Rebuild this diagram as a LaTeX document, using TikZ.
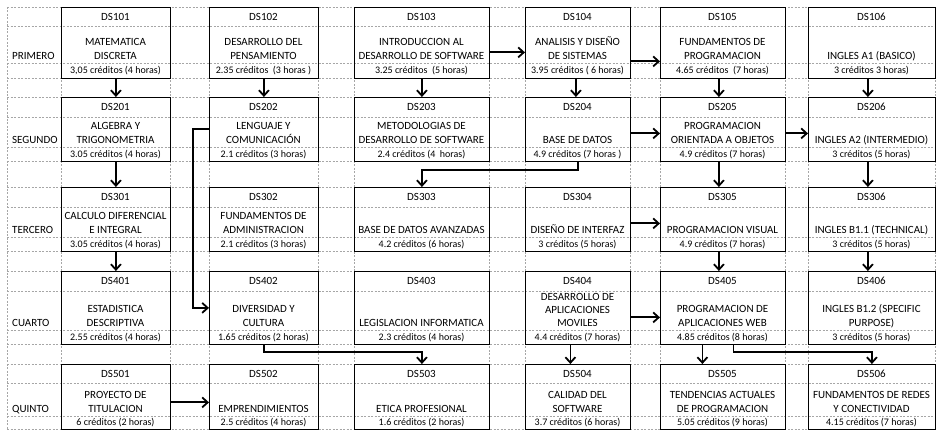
\documentclass[tikz,border=0pt]{standalone}
\usepackage{fontspec}
\setmainfont{Carlito}
\usetikzlibrary{arrows.meta}

\tikzset{
  course/.style={draw, line width=.8pt, inner sep=0pt, anchor=north west},
  code/.style={font=\fontsize{11}{13}\selectfont, inner sep=0pt},
  title/.style={font=\fontsize{11}{14}\selectfont, align=center, inner sep=0pt, anchor=south, text depth=0pt},
  cred/.style={font=\fontsize{10}{12}\selectfont, inner sep=0pt, anchor=base},
  year/.style={font=\fontsize{11}{13}\selectfont, inner sep=0pt, anchor=base west},
  link/.style={line width=1.8pt, ->},
  gridline/.style={gray!70, line width=.5pt, dash pattern=on 2pt off 1.5pt}
}

% #1 nivel, #2 columna, #3 numero, #4 nombre, #5 creditos
\newcommand{\course}[5]{%
  \pgfmathsetmacro\colL{{61,209,354,525,660,808}[#2-1]}
  \pgfmathsetmacro\colR{{170,318,489,630,785,935}[#2-1]}
  \pgfmathsetmacro\rowT{{7,97,187,271,364}[#1-1]}
  \pgfmathsetmacro\rowD{{26,117,207,291,383}[#1-1]}
  \pgfmathsetmacro\rowM{{63,147,237,330,416}[#1-1]}
  \pgfmathsetmacro\rowB{{78,161,251,344,429}[#1-1]}
  \pgfmathsetmacro\boxW{\colR-\colL}
  \pgfmathsetmacro\boxH{\rowB-\rowT}
  \node[course, minimum width=\boxW pt, minimum height=\boxH pt] (c#3) at (\colL,\rowT) {};
  \node[code] (c#3-code) at ({(\colL+\colR)/2},{(\rowT+\rowD)/2}) {DS#3};
  \node[title] (c#3-title) at ({(\colL+\colR)/2},\rowM-3.5) {#4};
  \node[cred] (c#3-cred) at ({(\colL+\colR)/2},{(\rowM+\rowB)/2+3.3}) {#5};
}

\begin{document}
\begin{tikzpicture}[x=1pt, y=-1pt, line join=miter, >={Straight Barb[length=5.5pt,width=10pt]}]
  \useasboundingbox (0,0) rectangle (943,435);
  % cuadricula
  \foreach \y in {7,26,63,78,97,117,147,161,187,207,237,251,271,291,330,344,364,383,416,429}
    \draw[gridline] (7,\y) -- (935,\y);
  \foreach \x in {7,61,170,209,318,354,489,525,630,660,785,808,935}
    \draw[gridline] (\x,7) -- (\x,429);

  % semestres
  \foreach \lev/\ym/\name in {1/63/PRIMERO, 2/147/SEGUNDO, 3/237/TERCERO, 4/330/CUARTO, 5/416/QUINTO}
    \node[year] (lev\lev) at (12,\ym-3.5) {\name};

  % primero
  \course{1}{1}{101}{MATEMATICA\\DISCRETA}{3,05 créditos (4 horas)}
  \course{1}{2}{102}{DESARROLLO DEL\\PENSAMIENTO}{2.35 créditos \ (3 horas )}
  \course{1}{3}{103}{INTRODUCCION AL\\DESARROLLO DE SOFTWARE}{3.25 créditos \ (5 horas)}
  \course{1}{4}{104}{ANALISIS Y DISEÑO\\DE SISTEMAS}{3.95 créditos ( 6 horas)}
  \course{1}{5}{105}{FUNDAMENTOS DE\\PROGRAMACION}{4.65 créditos \ (7 horas)}
  \course{1}{6}{106}{INGLES A1 (BASICO)}{3 créditos 3 horas)}
  % segundo
  \course{2}{1}{201}{ALGEBRA Y\\TRIGONOMETRIA}{3.05 créditos (4 horas)}
  \course{2}{2}{202}{LENGUAJE Y\\COMUNICACIÓN}{2.1 créditos (3 horas)}
  \course{2}{3}{203}{METODOLOGIAS DE\\DESARROLLO DE SOFTWARE}{2.4 créditos (4 \ horas)}
  \course{2}{4}{204}{BASE DE DATOS}{4.9 créditos (7 horas )}
  \course{2}{5}{205}{PROGRAMACION\\ORIENTADA A OBJETOS}{4.9 créditos (7 horas)}
  \course{2}{6}{206}{INGLES A2 (INTERMEDIO)}{3 créditos (5 horas)}
  % tercero
  \course{3}{1}{301}{CALCULO DIFERENCIAL\\E INTEGRAL}{3.05 créditos (4 horas)}
  \course{3}{2}{302}{FUNDAMENTOS DE\\ADMINISTRACION}{2.1 créditos (3 horas)}
  \course{3}{3}{303}{BASE DE DATOS AVANZADAS}{4.2 créditos (6 horas)}
  \course{3}{4}{304}{DISEÑO DE INTERFAZ}{3 créditos (5 horas)}
  \course{3}{5}{305}{PROGRAMACION VISUAL}{4.9 créditos (7 horas)}
  \course{3}{6}{306}{INGLES B1.1 (TECHNICAL)}{3 créditos (5 horas)}
  % cuarto
  \course{4}{1}{401}{ESTADISTICA\\DESCRIPTIVA}{2.55 créditos (4 horas)}
  \course{4}{2}{402}{DIVERSIDAD Y\\CULTURA}{1.65 créditos (2 horas)}
  \course{4}{3}{403}{LEGISLACION INFORMATICA}{2.3 créditos (4 horas)}
  \course{4}{4}{404}{DESARROLLO DE\\[-1pt]APLICACIONES\\[-1pt]MOVILES}{4.4 créditos (7 horas)}
  \course{4}{5}{405}{PROGRAMACION DE\\APLICACIONES WEB}{4.85 créditos (8 horas)}
  \course{4}{6}{406}{INGLES B1.2 (SPECIFIC\\PURPOSE)}{3 créditos (5 horas)}
  % quinto
  \course{5}{1}{501}{PROYECTO DE\\TITULACION}{6 créditos (2 horas)}
  \course{5}{2}{502}{EMPRENDIMIENTOS}{2.5 créditos (4 horas)}
  \course{5}{3}{503}{ETICA PROFESIONAL}{1.6 créditos (2 horas)}
  \course{5}{4}{504}{CALIDAD DEL\\SOFTWARE}{3.7 créditos (6 horas)}
  \course{5}{5}{505}{TENDENCIAS ACTUALES\\DE PROGRAMACION}{5.05 créditos (9 horas)}
  \course{5}{6}{506}{FUNDAMENTOS DE REDES\\Y CONECTIVIDAD}{4.15 créditos (7 horas)}

  % prerrequisitos
  \draw[link] (c101) -- (c201);
  \draw[link] (c102) -- (c202);
  \draw[link] (c103) -- (c203);
  \draw[link] ([xshift=-2pt]c104.south) -- ([xshift=-2pt]c204.north);
  \draw[link] ([xshift=-4pt]c105.south) -- ([xshift=-4pt]c205.north);
  \draw[link] ([xshift=-4pt]c106.south) -- ([xshift=-4pt]c206.north);
  \draw[link] ([yshift=-9.5pt]c103.east) -- ([yshift=-9.5pt]c104.west);
  \draw[link] ([yshift=-18.5pt]c104.east) -- ([yshift=-18.5pt]c105.west);

  \draw[link] (c201) -- (c301);
  \draw[link] (c202.west) -- ++(-16,0) |- (c402.west);
  \draw[link] (c204.south) -- ++(0,8) -| (c303.north);
  \draw[link] ([yshift=-4pt]c204.east) -- ([yshift=-4pt]c205.west);
  \draw[link] ([yshift=-4pt]c205.east) -- ([yshift=-4pt]c206.west);
  \draw[link] ([xshift=-4pt]c205.south) -- ([xshift=-4pt]c305.north);
  \draw[link] ([xshift=-4pt]c206.south) -- ([xshift=-4pt]c306.north);

  \draw[link] (c301) -- (c401);
  \draw[link] ([yshift=-4pt]c304.east) -- ([yshift=-4pt]c305.west);
  \draw[link] ([xshift=-4pt]c305.south) -- ([xshift=-4pt]c405.north);
  \draw[link] ([xshift=-4pt]c306.south) -- ([xshift=-4pt]c406.north);

  \draw[link] ([yshift=-9.5pt]c404.east) -- ([yshift=-9.5pt]c405.west);
  \draw[link] (c402.south) -- ++(0,7) -| (c503.north);
  \draw[link] ([xshift=-7.5pt]c404.south) -- ([xshift=-7.5pt]c504.north);
  \draw[link] ([xshift=-20.5pt]c405.south) -- ([xshift=-20.5pt]c505.north);
  \draw[link] ([xshift=10.5pt]c405.south) -- ++(0,7) -| (c506.north);

  \draw[link] ([yshift=-5.5pt]c501.east) -- ([yshift=-5.5pt]c502.west);
\end{tikzpicture}
\end{document}
